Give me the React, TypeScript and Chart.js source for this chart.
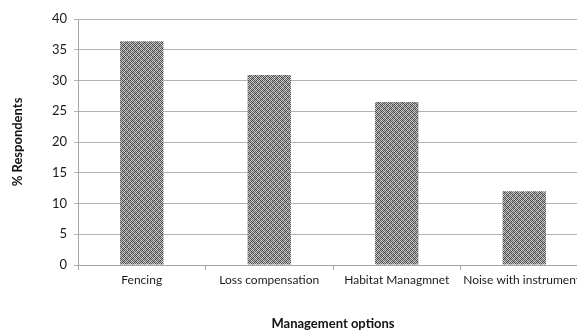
import React, { useEffect, useRef } from "react";
import { Chart, registerables } from "chart.js";

Chart.register(...registerables);

const categories = ["Fencing", "Loss compensation", "Habitat Managmnet", "Noise with instruments"];
const respondents = [36.4, 30.9, 26.5, 12.0];
const yTicks = [0, 5, 10, 15, 20, 25, 30, 35, 40];

const FONT = "Lato, 'Open Sans', 'DejaVu Sans', sans-serif";

// Fine grey plaid/checker fill for the bars
function makePattern(): CanvasPattern | string {
  const size = 6;
  const c = document.createElement("canvas");
  c.width = size;
  c.height = size;
  const g = c.getContext("2d");
  if (!g) return "#888";
  for (let y = 0; y < size; y++) {
    for (let x = 0; x < size; x++) {
      const checker = (x + y) % 2;
      const band = (Math.floor(x / 3) + Math.floor(y / 3)) % 2;
      const v = 0x48 + checker * 0x6c + band * 0x1c;
      g.fillStyle = `rgb(${v},${v},${v})`;
      g.fillRect(x, y, 1, 1);
    }
  }
  const ctx = document.createElement("canvas").getContext("2d");
  return (ctx && ctx.createPattern(c, "repeat")) || "#888";
}

export default function App() {
  const ref = useRef<HTMLCanvasElement | null>(null);

  useEffect(() => {
    if (!ref.current) return;
    const fill = makePattern();
    const chart = new Chart(ref.current, {
      type: "bar",
      data: {
        labels: categories,
        datasets: [
          {
            data: respondents,
            backgroundColor: fill as any,
            borderWidth: 0,
            categoryPercentage: 1,
            barPercentage: 0.34,
          },
        ],
      },
      options: {
        animation: false,
        responsive: false,
        maintainAspectRatio: false,
        layout: { padding: { top: 11, right: 20, left: 0, bottom: 0 } },
        plugins: { legend: { display: false }, tooltip: { enabled: false } },
        scales: {
          x: {
            afterFit: (s: any) => {
              s.height = 65;
              s.paddingLeft = 0;
              s.paddingRight = 0;
            },
            grid: {
              display: true,
              drawOnChartArea: false,
              color: "#a6a6a6",
              tickLength: 5,
              offset: true,
            },
            border: { color: "#a6a6a6" },
            ticks: {
              color: "#1a1a1a",
              font: { family: FONT, size: 12 },
              maxRotation: 0,
              autoSkip: false,
              padding: 3,
            },
            title: {
              display: true,
              text: "Management options",
              color: "#111",
              font: { family: FONT, size: 13, weight: "bold" },
              padding: { top: 0, bottom: -2 },
            },
          },
          y: {
            min: 0,
            max: 40,
            afterFit: (s: any) => {
              s.width = 70;
              s.paddingTop = 0;
              s.paddingBottom = 0;
            },
            afterBuildTicks: (s: any) => {
              s.ticks = yTicks.map((v) => ({ value: v }));
            },
            grid: { color: "#b3b3b3", tickLength: 4 },
            border: { color: "#a6a6a6" },
            ticks: {
              color: "#1a1a1a",
              font: { family: FONT, size: 13 },
              padding: 7,
            },
            title: {
              display: true,
              text: "% Respondents",
              color: "#111",
              font: { family: FONT, size: 13, weight: "bold" },
              padding: { top: 2, bottom: 0 },
            },
          },
        },
      },
    });
    return () => chart.destroy();
  }, []);

  return (
    <div style={{ width: 577, height: 322, overflow: "hidden" }}>
      <canvas ref={ref} width={600} height={322} style={{ display: "block" }} />
    </div>
  );
}
